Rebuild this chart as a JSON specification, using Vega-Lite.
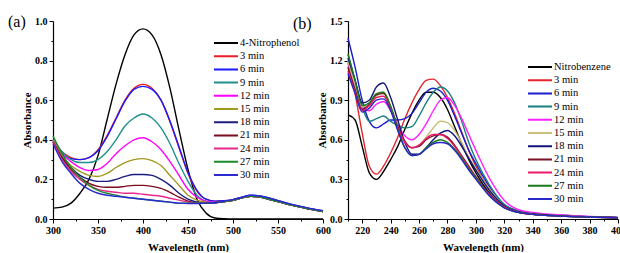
{
  "$schema": "https://vega.github.io/schema/vega-lite/v6.json",
  "padding": {"left": 8, "top": 14, "right": 0, "bottom": 0},
  "bounds": "flush",
  "spacing": 25,
  "background": "white",
  "config": {
    "view": {"stroke": null},
    "font": "Liberation Serif, Times New Roman, serif",
    "axis": {"domainColor": "black", "tickColor": "black", "labelColor": "black", "titleColor": "black", "labelFont": "Liberation Serif, Times New Roman, serif", "labelFontWeight": "bold", "labelFontSize": 10, "titleFont": "Liberation Serif, Times New Roman, serif", "titleFontWeight": "bold", "titleFontSize": 11, "grid": false, "tickSize": 3, "labelPadding": 2, "domainWidth": 1.2},
    "legend": {"symbolType": "stroke", "symbolSize": 576, "symbolStrokeWidth": 2, "labelFont": "Liberation Serif, Times New Roman, serif", "labelFontSize": 10.5, "labelColor": "black", "clipHeight": 10, "rowPadding": 2.2, "labelOffset": 1, "title": null},
    "title": {"font": "Liberation Serif, Times New Roman, serif", "fontSize": 16, "fontWeight": "normal", "color": "black"}
  },
  "datasets": {
    "a": [
      {"wl": 300, "4-Nitrophenol": 0.055, "3 min": 0.40, "6 min": 0.39, "9 min": 0.40, "12 min": 0.40, "15 min": 0.40, "18 min": 0.39, "21 min": 0.39, "24 min": 0.39, "27 min": 0.42, "30 min": 0.38},
      {"wl": 310, "4-Nitrophenol": 0.06, "3 min": 0.34, "6 min": 0.335, "9 min": 0.34, "12 min": 0.33, "15 min": 0.32, "18 min": 0.31, "21 min": 0.31, "24 min": 0.30, "27 min": 0.33, "30 min": 0.29},
      {"wl": 320, "4-Nitrophenol": 0.08, "3 min": 0.31, "6 min": 0.305, "9 min": 0.30, "12 min": 0.29, "15 min": 0.27, "18 min": 0.26, "21 min": 0.25, "24 min": 0.24, "27 min": 0.26, "30 min": 0.23},
      {"wl": 330, "4-Nitrophenol": 0.13, "3 min": 0.30, "6 min": 0.30, "9 min": 0.285, "12 min": 0.26, "15 min": 0.24, "18 min": 0.22, "21 min": 0.21, "24 min": 0.20, "27 min": 0.21, "30 min": 0.18},
      {"wl": 340, "4-Nitrophenol": 0.20, "3 min": 0.31, "6 min": 0.31, "9 min": 0.285, "12 min": 0.245, "15 min": 0.22, "18 min": 0.20, "21 min": 0.18, "24 min": 0.17, "27 min": 0.17, "30 min": 0.15},
      {"wl": 350, "4-Nitrophenol": 0.32, "3 min": 0.35, "6 min": 0.345, "9 min": 0.30, "12 min": 0.25, "15 min": 0.215, "18 min": 0.19, "21 min": 0.165, "24 min": 0.15, "27 min": 0.145, "30 min": 0.13},
      {"wl": 360, "4-Nitrophenol": 0.50, "3 min": 0.42, "6 min": 0.415, "9 min": 0.34, "12 min": 0.28, "15 min": 0.23, "18 min": 0.19, "21 min": 0.16, "24 min": 0.14, "27 min": 0.13, "30 min": 0.12},
      {"wl": 370, "4-Nitrophenol": 0.68, "3 min": 0.51, "6 min": 0.505, "9 min": 0.40, "12 min": 0.33, "15 min": 0.26, "18 min": 0.20, "21 min": 0.16, "24 min": 0.135, "27 min": 0.12, "30 min": 0.115},
      {"wl": 380, "4-Nitrophenol": 0.83, "3 min": 0.60, "6 min": 0.595, "9 min": 0.47, "12 min": 0.37, "15 min": 0.285, "18 min": 0.215, "21 min": 0.165, "24 min": 0.13, "27 min": 0.11, "30 min": 0.11},
      {"wl": 390, "4-Nitrophenol": 0.93, "3 min": 0.66, "6 min": 0.655, "9 min": 0.51, "12 min": 0.40, "15 min": 0.30, "18 min": 0.225, "21 min": 0.17, "24 min": 0.13, "27 min": 0.105, "30 min": 0.105},
      {"wl": 400, "4-Nitrophenol": 0.96, "3 min": 0.68, "6 min": 0.67, "9 min": 0.53, "12 min": 0.41, "15 min": 0.305, "18 min": 0.225, "21 min": 0.17, "24 min": 0.125, "27 min": 0.10, "30 min": 0.10},
      {"wl": 410, "4-Nitrophenol": 0.93, "3 min": 0.66, "6 min": 0.655, "9 min": 0.51, "12 min": 0.39, "15 min": 0.295, "18 min": 0.22, "21 min": 0.165, "24 min": 0.12, "27 min": 0.095, "30 min": 0.095},
      {"wl": 420, "4-Nitrophenol": 0.83, "3 min": 0.60, "6 min": 0.60, "9 min": 0.46, "12 min": 0.35, "15 min": 0.27, "18 min": 0.20, "21 min": 0.155, "24 min": 0.115, "27 min": 0.09, "30 min": 0.09},
      {"wl": 430, "4-Nitrophenol": 0.66, "3 min": 0.49, "6 min": 0.495, "9 min": 0.38, "12 min": 0.29, "15 min": 0.22, "18 min": 0.17, "21 min": 0.135, "24 min": 0.105, "27 min": 0.085, "30 min": 0.085},
      {"wl": 440, "4-Nitrophenol": 0.45, "3 min": 0.36, "6 min": 0.365, "9 min": 0.28, "12 min": 0.22, "15 min": 0.17, "18 min": 0.13, "21 min": 0.11, "24 min": 0.095, "27 min": 0.08, "30 min": 0.08},
      {"wl": 450, "4-Nitrophenol": 0.25, "3 min": 0.23, "6 min": 0.235, "9 min": 0.19, "12 min": 0.15, "15 min": 0.12, "18 min": 0.10, "21 min": 0.09, "24 min": 0.085, "27 min": 0.08, "30 min": 0.078},
      {"wl": 460, "4-Nitrophenol": 0.10, "3 min": 0.14, "6 min": 0.145, "9 min": 0.12, "12 min": 0.11, "15 min": 0.095, "18 min": 0.085, "21 min": 0.08, "24 min": 0.08, "27 min": 0.08, "30 min": 0.078},
      {"wl": 470, "4-Nitrophenol": 0.03, "3 min": 0.10, "6 min": 0.10, "9 min": 0.09, "12 min": 0.09, "15 min": 0.085, "18 min": 0.08, "21 min": 0.08, "24 min": 0.08, "27 min": 0.08, "30 min": 0.08},
      {"wl": 480, "4-Nitrophenol": 0.005, "3 min": 0.09, "6 min": 0.09, "9 min": 0.085, "12 min": 0.085, "15 min": 0.082, "18 min": 0.082, "21 min": 0.082, "24 min": 0.082, "27 min": 0.082, "30 min": 0.082},
      {"wl": 490, "4-Nitrophenol": 0.001, "3 min": 0.092, "6 min": 0.092, "9 min": 0.088, "12 min": 0.088, "15 min": 0.088, "18 min": 0.088, "21 min": 0.088, "24 min": 0.088, "27 min": 0.088, "30 min": 0.09},
      {"wl": 500, "4-Nitrophenol": 0, "3 min": 0.098, "6 min": 0.098, "9 min": 0.095, "12 min": 0.095, "15 min": 0.095, "18 min": 0.095, "21 min": 0.095, "24 min": 0.095, "27 min": 0.095, "30 min": 0.098},
      {"wl": 510, "4-Nitrophenol": 0, "3 min": 0.11, "6 min": 0.11, "9 min": 0.107, "12 min": 0.107, "15 min": 0.107, "18 min": 0.107, "21 min": 0.107, "24 min": 0.107, "27 min": 0.107, "30 min": 0.11},
      {"wl": 520, "4-Nitrophenol": 0, "3 min": 0.118, "6 min": 0.12, "9 min": 0.115, "12 min": 0.115, "15 min": 0.115, "18 min": 0.115, "21 min": 0.115, "24 min": 0.115, "27 min": 0.115, "30 min": 0.12},
      {"wl": 530, "4-Nitrophenol": 0, "3 min": 0.114, "6 min": 0.116, "9 min": 0.111, "12 min": 0.111, "15 min": 0.111, "18 min": 0.111, "21 min": 0.111, "24 min": 0.111, "27 min": 0.111, "30 min": 0.116},
      {"wl": 540, "4-Nitrophenol": 0, "3 min": 0.103, "6 min": 0.106, "9 min": 0.10, "12 min": 0.10, "15 min": 0.10, "18 min": 0.10, "21 min": 0.10, "24 min": 0.10, "27 min": 0.10, "30 min": 0.106},
      {"wl": 550, "4-Nitrophenol": 0, "3 min": 0.09, "6 min": 0.093, "9 min": 0.088, "12 min": 0.088, "15 min": 0.088, "18 min": 0.088, "21 min": 0.088, "24 min": 0.088, "27 min": 0.088, "30 min": 0.093},
      {"wl": 560, "4-Nitrophenol": 0, "3 min": 0.078, "6 min": 0.08, "9 min": 0.076, "12 min": 0.076, "15 min": 0.076, "18 min": 0.076, "21 min": 0.076, "24 min": 0.076, "27 min": 0.076, "30 min": 0.08},
      {"wl": 570, "4-Nitrophenol": 0, "3 min": 0.067, "6 min": 0.069, "9 min": 0.065, "12 min": 0.065, "15 min": 0.065, "18 min": 0.065, "21 min": 0.065, "24 min": 0.065, "27 min": 0.065, "30 min": 0.069},
      {"wl": 580, "4-Nitrophenol": 0, "3 min": 0.057, "6 min": 0.059, "9 min": 0.055, "12 min": 0.055, "15 min": 0.055, "18 min": 0.055, "21 min": 0.055, "24 min": 0.055, "27 min": 0.055, "30 min": 0.059},
      {"wl": 590, "4-Nitrophenol": 0, "3 min": 0.048, "6 min": 0.05, "9 min": 0.046, "12 min": 0.046, "15 min": 0.046, "18 min": 0.046, "21 min": 0.046, "24 min": 0.046, "27 min": 0.046, "30 min": 0.05},
      {"wl": 600, "4-Nitrophenol": 0, "3 min": 0.04, "6 min": 0.042, "9 min": 0.038, "12 min": 0.038, "15 min": 0.038, "18 min": 0.038, "21 min": 0.038, "24 min": 0.038, "27 min": 0.038, "30 min": 0.042}
    ],
    "b": [
      {"wl": 210, "Nitrobenzene": 0.79, "3 min": 1.20, "6 min": 1.37, "9 min": 1.25, "12 min": 1.18, "15 min": 1.20, "18 min": 1.22, "21 min": 1.15, "24 min": 1.12, "27 min": 1.25, "30 min": 1.10},
      {"wl": 215, "Nitrobenzene": 0.75, "3 min": 0.95, "6 min": 1.15, "9 min": 1.05, "12 min": 1.00, "15 min": 1.00, "18 min": 1.05, "21 min": 0.98, "24 min": 0.96, "27 min": 1.05, "30 min": 0.95},
      {"wl": 220, "Nitrobenzene": 0.55, "3 min": 0.65, "6 min": 0.90, "9 min": 0.85, "12 min": 0.84, "15 min": 0.85, "18 min": 0.88, "21 min": 0.83, "24 min": 0.82, "27 min": 0.86, "30 min": 0.81},
      {"wl": 225, "Nitrobenzene": 0.35, "3 min": 0.40, "6 min": 0.74, "9 min": 0.74, "12 min": 0.82, "15 min": 0.86, "18 min": 0.90, "21 min": 0.87, "24 min": 0.86, "27 min": 0.88, "30 min": 0.84},
      {"wl": 230, "Nitrobenzene": 0.30, "3 min": 0.34, "6 min": 0.69, "9 min": 0.76, "12 min": 0.87, "15 min": 0.93, "18 min": 1.00, "21 min": 0.94, "24 min": 0.92, "27 min": 0.95, "30 min": 0.90},
      {"wl": 235, "Nitrobenzene": 0.36, "3 min": 0.40, "6 min": 0.72, "9 min": 0.78, "12 min": 0.89, "15 min": 0.96, "18 min": 1.03, "21 min": 0.95, "24 min": 0.93, "27 min": 0.96, "30 min": 0.91},
      {"wl": 240, "Nitrobenzene": 0.45, "3 min": 0.50, "6 min": 0.75, "9 min": 0.74, "12 min": 0.82, "15 min": 0.86, "18 min": 0.92, "21 min": 0.85, "24 min": 0.83, "27 min": 0.85, "30 min": 0.82},
      {"wl": 245, "Nitrobenzene": 0.55, "3 min": 0.62, "6 min": 0.75, "9 min": 0.71, "12 min": 0.71, "15 min": 0.70, "18 min": 0.75, "21 min": 0.70, "24 min": 0.69, "27 min": 0.68, "30 min": 0.67},
      {"wl": 250, "Nitrobenzene": 0.68, "3 min": 0.76, "6 min": 0.76, "9 min": 0.69, "12 min": 0.63, "15 min": 0.58, "18 min": 0.58, "21 min": 0.59, "24 min": 0.58, "27 min": 0.54, "30 min": 0.54},
      {"wl": 255, "Nitrobenzene": 0.80, "3 min": 0.88, "6 min": 0.80, "9 min": 0.70, "12 min": 0.60, "15 min": 0.54, "18 min": 0.49, "21 min": 0.54, "24 min": 0.54, "27 min": 0.48, "30 min": 0.48},
      {"wl": 260, "Nitrobenzene": 0.90, "3 min": 0.98, "6 min": 0.88, "9 min": 0.78, "12 min": 0.64, "15 min": 0.56, "18 min": 0.49, "21 min": 0.55, "24 min": 0.56, "27 min": 0.49, "30 min": 0.49},
      {"wl": 265, "Nitrobenzene": 0.96, "3 min": 1.05, "6 min": 0.96, "9 min": 0.88, "12 min": 0.72, "15 min": 0.62, "18 min": 0.54, "21 min": 0.60, "24 min": 0.61, "27 min": 0.54, "30 min": 0.53},
      {"wl": 270, "Nitrobenzene": 0.96, "3 min": 1.06, "6 min": 0.99, "9 min": 0.96, "12 min": 0.82, "15 min": 0.69, "18 min": 0.60, "21 min": 0.63, "24 min": 0.64, "27 min": 0.58, "30 min": 0.57},
      {"wl": 275, "Nitrobenzene": 0.92, "3 min": 1.01, "6 min": 0.97, "9 min": 1.00, "12 min": 0.90, "15 min": 0.74, "18 min": 0.65, "21 min": 0.64, "24 min": 0.64, "27 min": 0.60, "30 min": 0.58},
      {"wl": 280, "Nitrobenzene": 0.83, "3 min": 0.92, "6 min": 0.90, "9 min": 0.97, "12 min": 0.92, "15 min": 0.73, "18 min": 0.67, "21 min": 0.62, "24 min": 0.61, "27 min": 0.58, "30 min": 0.57},
      {"wl": 285, "Nitrobenzene": 0.70, "3 min": 0.80, "6 min": 0.78, "9 min": 0.88, "12 min": 0.86, "15 min": 0.67, "18 min": 0.63, "21 min": 0.56, "24 min": 0.55, "27 min": 0.53, "30 min": 0.52},
      {"wl": 290, "Nitrobenzene": 0.57, "3 min": 0.66, "6 min": 0.65, "9 min": 0.74, "12 min": 0.76, "15 min": 0.58, "18 min": 0.55, "21 min": 0.48, "24 min": 0.47, "27 min": 0.46, "30 min": 0.45},
      {"wl": 295, "Nitrobenzene": 0.45, "3 min": 0.52, "6 min": 0.52, "9 min": 0.58, "12 min": 0.64, "15 min": 0.47, "18 min": 0.46, "21 min": 0.40, "24 min": 0.39, "27 min": 0.38, "30 min": 0.37},
      {"wl": 300, "Nitrobenzene": 0.35, "3 min": 0.40, "6 min": 0.42, "9 min": 0.45, "12 min": 0.52, "15 min": 0.38, "18 min": 0.37, "21 min": 0.32, "24 min": 0.31, "27 min": 0.31, "30 min": 0.30},
      {"wl": 310, "Nitrobenzene": 0.19, "3 min": 0.22, "6 min": 0.24, "9 min": 0.25, "12 min": 0.30, "15 min": 0.22, "18 min": 0.21, "21 min": 0.18, "24 min": 0.18, "27 min": 0.17, "30 min": 0.17},
      {"wl": 320, "Nitrobenzene": 0.09, "3 min": 0.10, "6 min": 0.11, "9 min": 0.11, "12 min": 0.14, "15 min": 0.10, "18 min": 0.10, "21 min": 0.09, "24 min": 0.09, "27 min": 0.085, "30 min": 0.085},
      {"wl": 330, "Nitrobenzene": 0.05, "3 min": 0.055, "6 min": 0.06, "9 min": 0.06, "12 min": 0.07, "15 min": 0.055, "18 min": 0.055, "21 min": 0.05, "24 min": 0.05, "27 min": 0.05, "30 min": 0.05},
      {"wl": 340, "Nitrobenzene": 0.035, "3 min": 0.04, "6 min": 0.04, "9 min": 0.04, "12 min": 0.05, "15 min": 0.04, "18 min": 0.04, "21 min": 0.035, "24 min": 0.035, "27 min": 0.035, "30 min": 0.035},
      {"wl": 360, "Nitrobenzene": 0.025, "3 min": 0.025, "6 min": 0.028, "9 min": 0.028, "12 min": 0.03, "15 min": 0.025, "18 min": 0.025, "21 min": 0.022, "24 min": 0.022, "27 min": 0.022, "30 min": 0.022},
      {"wl": 380, "Nitrobenzene": 0.015, "3 min": 0.015, "6 min": 0.018, "9 min": 0.018, "12 min": 0.02, "15 min": 0.015, "18 min": 0.015, "21 min": 0.015, "24 min": 0.015, "27 min": 0.015, "30 min": 0.015},
      {"wl": 400, "Nitrobenzene": 0.01, "3 min": 0.01, "6 min": 0.01, "9 min": 0.012, "12 min": 0.012, "15 min": 0.01, "18 min": 0.01, "21 min": 0.01, "24 min": 0.01, "27 min": 0.01, "30 min": 0.01}
    ]
  },
  "resolve": {"scale": {"color": "independent"}, "legend": {"color": "independent"}},
  "hconcat": [
    {
      "width": 270,
      "height": 198,
      "title": {"text": "(a)", "anchor": "start", "frame": "group", "dx": -45, "dy": 18},
      "data": {"name": "a"},
      "transform": [{"fold": ["4-Nitrophenol", "3 min", "6 min", "9 min", "12 min", "15 min", "18 min", "21 min", "24 min", "27 min", "30 min"], "as": ["series", "absorbance"]}],
      "mark": {"type": "line", "interpolate": "monotone", "strokeWidth": 1.4},
      "encoding": {
        "x": {"field": "wl", "type": "quantitative", "scale": {"domain": [300, 600], "nice": false},
          "axis": {"title": "Wavelength (nm)", "values": [300, 325, 350, 375, 400, 425, 450, 475, 500, 525, 550, 575, 600], "labelExpr": "datum.value % 50 === 0 ? datum.label : ''", "tickSize": {"condition": {"test": "datum.value % 50 === 0", "value": 4}, "value": 2}, "labelFlush": false, "titlePadding": 6}},
        "y": {"field": "absorbance", "type": "quantitative", "scale": {"domain": [0, 1], "nice": false},
          "axis": {"title": "Absorbance", "values": [0, 0.1, 0.2, 0.3, 0.4, 0.5, 0.6, 0.7, 0.8, 0.9, 1.0], "format": ".1f", "labelExpr": "round(datum.value * 10) % 2 === 0 ? datum.label : ''", "tickSize": {"condition": {"test": "round(datum.value * 10) % 2 === 0", "value": 4}, "value": 2}, "labelFlush": false, "titlePadding": 2}},
        "color": {"field": "series", "type": "nominal",
          "scale": {"domain": ["4-Nitrophenol", "3 min", "6 min", "9 min", "12 min", "15 min", "18 min", "21 min", "24 min", "27 min", "30 min"],
            "range": ["#000000", "#ee1c24", "#1a1aff", "#1f8f8f", "#ff00ff", "#a09a20", "#1c1c80", "#7b0d1e", "#e8288c", "#1a8c2a", "#2a2ad0"]},
          "legend": {"orient": "none", "legendX": 160, "legendY": 17}}
      }
    },
    {
      "width": 270,
      "height": 198,
      "title": {"text": "(b)", "anchor": "start", "frame": "group", "dx": -55, "dy": 20},
      "data": {"name": "b"},
      "transform": [{"fold": ["Nitrobenzene", "3 min", "6 min", "9 min", "12 min", "15 min", "18 min", "21 min", "24 min", "27 min", "30 min"], "as": ["series", "absorbance"]}],
      "mark": {"type": "line", "interpolate": "monotone", "strokeWidth": 1.4},
      "encoding": {
        "x": {"field": "wl", "type": "quantitative", "scale": {"domain": [210, 400], "nice": false},
          "axis": {"title": "Wavelength (nm)", "values": [210, 220, 230, 240, 250, 260, 270, 280, 290, 300, 310, 320, 330, 340, 350, 360, 370, 380, 390, 400], "labelExpr": "datum.value % 20 === 0 ? datum.label : ''", "tickSize": {"condition": {"test": "datum.value % 20 === 0", "value": 4}, "value": 2}, "labelFlush": false, "titlePadding": 6}},
        "y": {"field": "absorbance", "type": "quantitative", "scale": {"domain": [0, 1.5], "nice": false},
          "axis": {"title": "Absorbance", "values": [0, 0.15, 0.3, 0.45, 0.6, 0.75, 0.9, 1.05, 1.2, 1.35, 1.5], "format": ".1f", "labelExpr": "round(datum.value * 100) % 30 === 0 ? datum.label : ''", "tickSize": {"condition": {"test": "round(datum.value * 100) % 30 === 0", "value": 4}, "value": 2}, "labelFlush": false, "titlePadding": 2}},
        "color": {"field": "series", "type": "nominal",
          "scale": {"domain": ["Nitrobenzene", "3 min", "6 min", "9 min", "12 min", "15 min", "18 min", "21 min", "24 min", "27 min", "30 min"],
            "range": ["#000000", "#e3262c", "#1d1dcc", "#178080", "#ff22ff", "#c8bf78", "#14147a", "#7a1426", "#ea1a6a", "#1a7a1a", "#2828c8"]},
          "legend": {"orient": "none", "legendX": 179, "legendY": 41}}
      }
    }
  ]
}
